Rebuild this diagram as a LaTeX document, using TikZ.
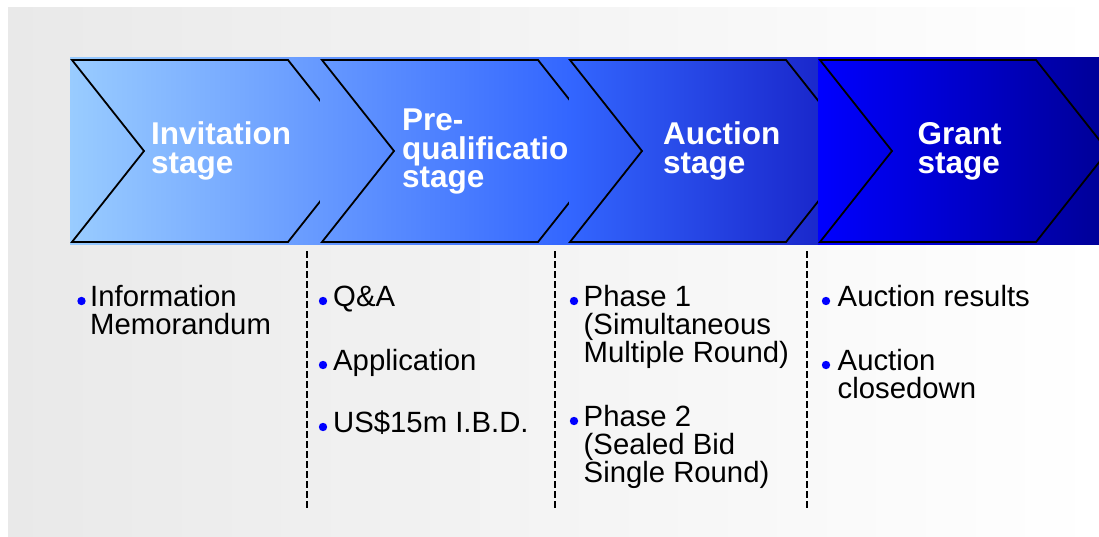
\documentclass[tikz,border=0pt]{standalone}
\usepackage{fontspec}
\setmainfont{Liberation Sans}
\usetikzlibrary{calc}
\definecolor{panelgrey}{HTML}{E9E9E9}
\definecolor{sA}{HTML}{99CCFF}
\definecolor{sB}{HTML}{6699FF}
\definecolor{sC}{HTML}{3366FF}
\definecolor{sD}{HTML}{1A28CC}
\definecolor{sE}{HTML}{0000FF}
\definecolor{sF}{HTML}{000099}
\definecolor{dotblue}{HTML}{0000FF}
\begin{document}
\begin{tikzpicture}[x=1pt,y=-1pt,
  chev/.style={draw=black,line width=1.8pt,line join=miter},
  stagetitle/.style={text=white,font=\fontsize{31.5}{28.5}\selectfont\bfseries,align=left,anchor=base west,inner sep=0pt},
  bodytext/.style={text=black,font=\fontsize{29.3}{27.8}\selectfont,align=left,anchor=base west,inner sep=0pt},
  sepline/.style={draw=black,line width=1.5pt,dash pattern=on 6.5pt off 3.5pt},
  bulletdot/.style={fill=dotblue}]
\useasboundingbox (0,0) rectangle (1099,537);
\clip (0,0) rectangle (1099,537);
% panel
\shade[left color=panelgrey,right color=white] (8,8) rectangle (1099,537);
% stage 1
\shade[left color=sA,right color=sB] (70,58) rectangle (320,244);
\draw[chev] (72,60) -- (288,60) -- (360,151) -- (288,242) -- (72,242) -- (144,151) -- cycle;
\node[stagetitle] (t1) at (151,173.5) {Invitation\\stage};
% stage 2
\shade[left color=sB,right color=sC] (320,58) rectangle (569,244);
\draw[chev] (322,60) -- (538,60) -- (610,151) -- (538,242) -- (322,242) -- (394,151) -- cycle;
\node[stagetitle] (t2) at (402,188) {Pre-\\qualificatio\\stage};
% stage 3
\shade[left color=sC,right color=sD] (569,58) rectangle (818,244);
\draw[chev] (570,60) -- (786,60) -- (858,151) -- (786,242) -- (570,242) -- (642,151) -- cycle;
\node[stagetitle] (t3) at (663,173.5) {Auction\\stage};
% stage 4
\shade[left color=sE,right color=sF] (818,58) rectangle (1099,244);
\draw[chev] (820,60) -- (1036,60) -- (1108,151) -- (1036,242) -- (820,242) -- (892,151) -- cycle;
\node[stagetitle] (t4) at (917.5,173.5) {Grant\\stage};
% separators
\coordinate (s1a) at (307,251); \coordinate (s1b) at (307,508);
\coordinate (s2a) at (555,251); \coordinate (s2b) at (555,508);
\coordinate (s3a) at (807,251); \coordinate (s3b) at (807,508);
\draw[sepline] (s1a) -- (s1b);
\draw[sepline] (s2a) -- (s2b);
\draw[sepline] (s3a) -- (s3b);
% column 1
\fill[bulletdot] (81.5,301) circle (4.2pt);
\node[bodytext] (b1) at (90,334.3) {Information\\Memorandum};
% column 2
\fill[bulletdot] (323,301) circle (4.2pt);
\node[bodytext] (b2) at (333,306.5) {Q\&A};
\fill[bulletdot] (323,365) circle (4.2pt);
\node[bodytext] (b3) at (333,370.5) {Application};
\fill[bulletdot] (323,427) circle (4.2pt);
\node[bodytext] (b4) at (333,432.5) {US\$15m I.B.D.};
% column 3
\fill[bulletdot] (574,301) circle (4.2pt);
\node[bodytext] (b5) at (583.5,362.1) {Phase 1\\(Simultaneous\\Multiple Round)};
\fill[bulletdot] (574,421) circle (4.2pt);
\node[bodytext] (b6) at (583.5,482.1) {Phase 2\\(Sealed Bid\\Single Round)};
% column 4
\fill[bulletdot] (826,301) circle (4.2pt);
\node[bodytext] (b7) at (837.5,306.5) {Auction results};
\fill[bulletdot] (826,365) circle (4.2pt);
\node[bodytext] (b8) at (837.5,398.3) {Auction\\closedown};
\end{tikzpicture}
\end{document}
